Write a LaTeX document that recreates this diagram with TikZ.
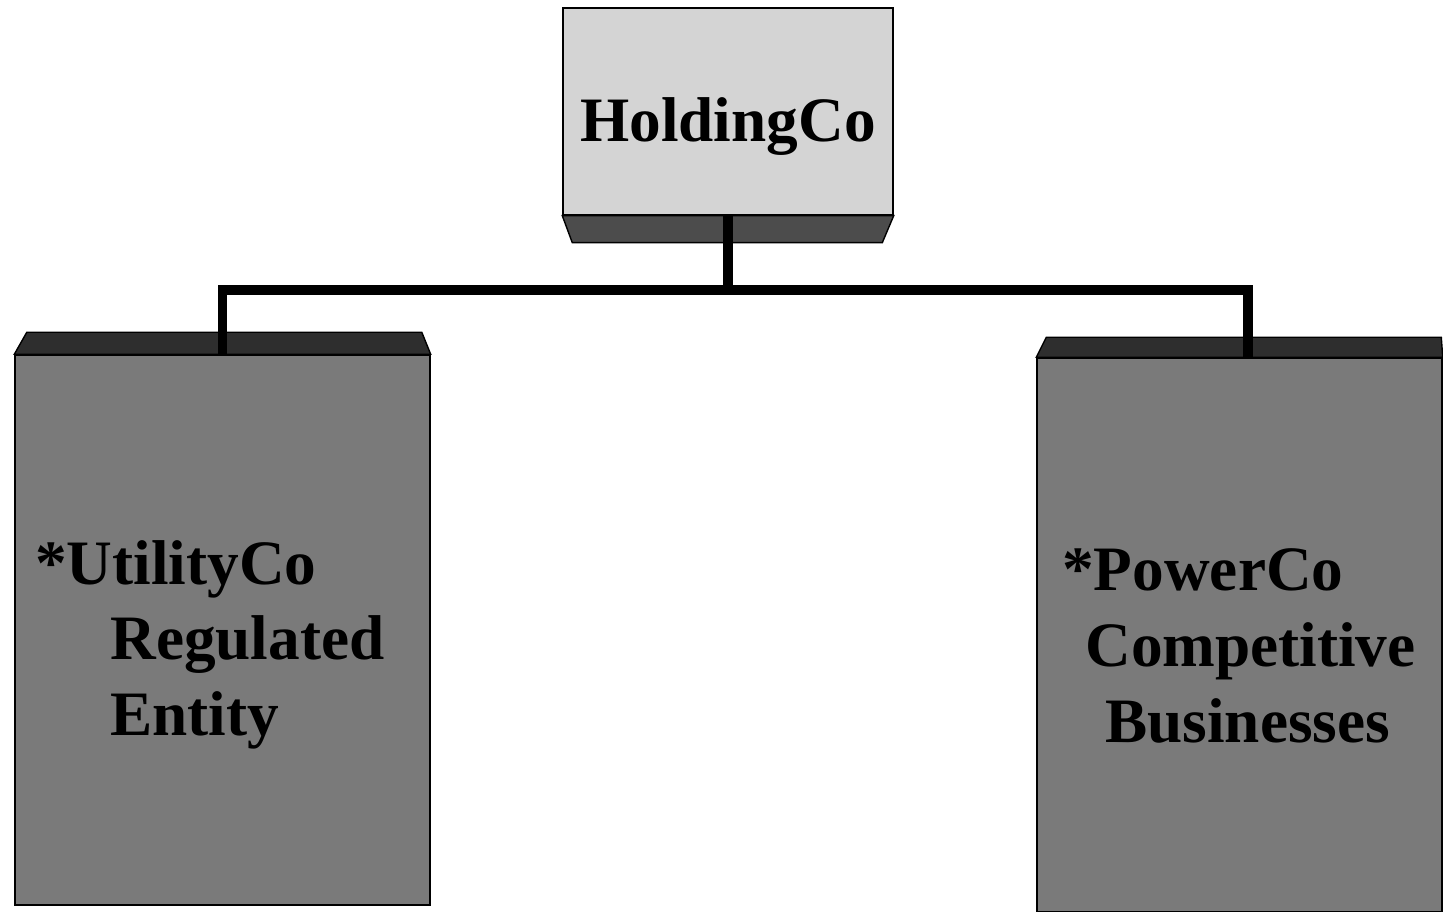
\documentclass[tikz,border=0pt]{standalone}
\usepackage{fontspec}
\setmainfont{Liberation Serif}
\usetikzlibrary{shapes,arrows}

\begin{document}
\begin{tikzpicture}[auto,
  face/.style={rectangle, draw=black, line width=0.8pt, inner sep=0pt},
  bevel/.style={draw=black, line width=0.8pt},
  link/.style={draw, line width=5.5pt},
  label/.style={inner sep=0pt, align=left, font=\bfseries\fontsize{36}{43}\selectfont}]
\useasboundingbox (0,0) rectangle (28.86,18.24);
\node[face, fill=black!17, minimum width=6.6cm, minimum height=4.14cm] (hold) at (14.56,16.01) {};
\node[face, fill=black!52, minimum width=8.3cm, minimum height=11cm] (util) at (4.45,5.64) {};
\node[face, fill=black!52, minimum width=8.1cm, minimum height=11.08cm] (power) at (24.79,5.54) {};
% bevels
\path[bevel, fill=black!70] (hold.south west) -- ++(0.2,-0.54) -- ++(6.2,0) -- (hold.south east) -- cycle;
\path[bevel, fill=black!82] (util.north west) -- ++(0.25,0.44) -- ++(7.9,0) -- (util.north east) -- cycle;
\path[bevel, fill=black!82] (power.north west) -- ++(0.2,0.4) -- ++(7.9,0) -- (power.north east) -- cycle;
% texts
\node[label] (holdtxt) at ([yshift=-0.3cm]hold.center) {HoldingCo};
\node[label, anchor=west] (utiltxt) at (0.7,5.35) {*UtilityCo\\\hspace*{1.5cm}Regulated\\\hspace*{1.5cm}Entity};
\node[label, anchor=west] (powertxt) at (21.24,5.32) {*PowerCo\\\hspace*{0.46cm}Competitive\\\hspace*{0.86cm}Businesses};
% connectors
\coordinate (bus) at (14.56,12.44);
\path[link] (hold.south) -- (bus) -| (util.north);
\path[link] (bus) -| ([xshift=0.17cm]power.north);
\end{tikzpicture}
\end{document}
